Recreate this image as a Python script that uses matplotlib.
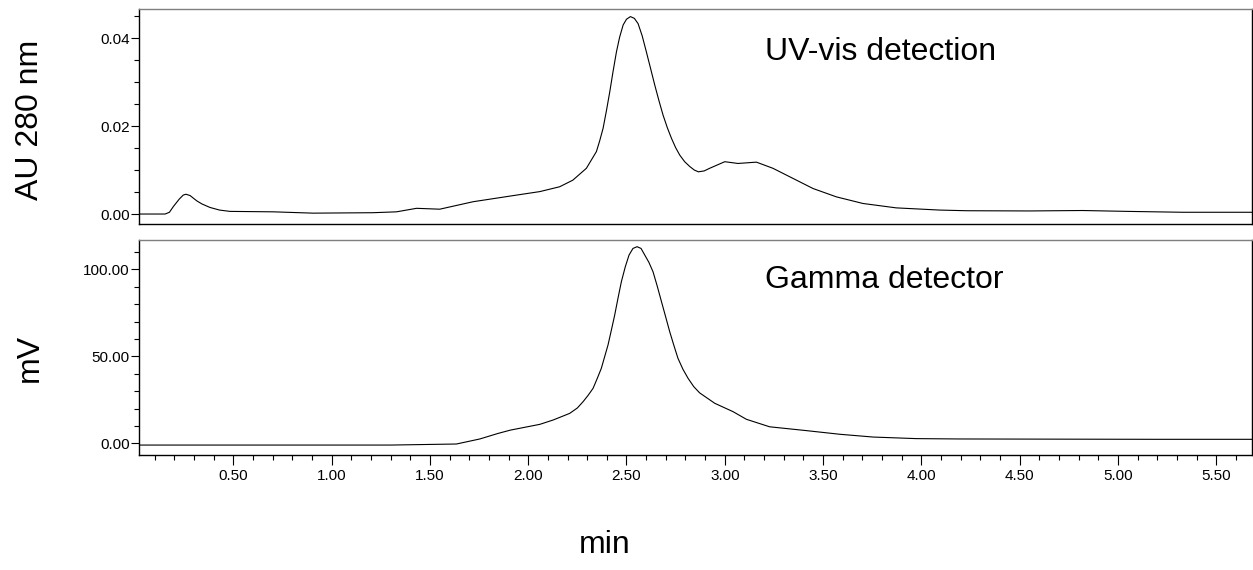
import matplotlib
matplotlib.use('Agg')
import matplotlib.pyplot as plt
from matplotlib.ticker import MultipleLocator, FormatStrFormatter

plt.rcParams['font.family'] = ['Liberation Sans', 'DejaVu Sans']

# UV-vis trace (AU at 280 nm)
uv_t = [0.02, 0.153, 0.175, 0.195, 0.225, 0.245, 0.259, 0.28, 0.314, 0.34,
        0.381, 0.43, 0.483, 0.703, 0.906, 1.21, 1.33, 1.432, 1.55, 1.72,
        1.94, 2.059, 2.16, 2.227, 2.296, 2.347, 2.364, 2.381, 2.398, 2.415,
        2.432, 2.449, 2.465, 2.483, 2.50, 2.520, 2.54, 2.559, 2.58, 2.601,
        2.622, 2.644, 2.665, 2.686, 2.708, 2.729, 2.75, 2.771, 2.796, 2.822,
        2.845, 2.866, 2.895, 2.923, 3.0, 3.067, 3.161, 3.245, 3.347, 3.449,
        3.568, 3.703, 3.872, 4.093, 4.23, 4.55, 4.82, 5.05, 5.33, 5.68]
uv_au = [0.0, 0.0, 0.0004, 0.0017, 0.0034, 0.0043, 0.0045, 0.0042, 0.0030, 0.0023,
         0.0015, 0.0009, 0.0006, 0.0005, 0.0002, 0.0003, 0.0005, 0.0013, 0.0011, 0.0028,
         0.0043, 0.0051, 0.0062, 0.0077, 0.0104, 0.0142, 0.0167, 0.0195, 0.0235, 0.0278,
         0.0325, 0.0369, 0.0402, 0.0430, 0.0443, 0.0449, 0.0445, 0.0433, 0.0405, 0.0369,
         0.0332, 0.0293, 0.0258, 0.0225, 0.0196, 0.0172, 0.0151, 0.0134, 0.0119, 0.0108,
         0.0100, 0.0096, 0.0098, 0.0104, 0.0119, 0.0115, 0.0118, 0.0104, 0.0081, 0.0058,
         0.0039, 0.0024, 0.0014, 0.0009, 0.00075, 0.0007, 0.0008, 0.0006, 0.0004, 0.0004]

# gamma detector trace (mV)
gam_t = [0.02, 0.5, 1.0, 1.3, 1.635, 1.754, 1.847, 1.91, 2.059, 2.127,
         2.211, 2.25, 2.279, 2.305, 2.33, 2.351, 2.372, 2.389, 2.406, 2.423,
         2.44, 2.457, 2.474, 2.494, 2.513, 2.533, 2.554, 2.574, 2.593, 2.614,
         2.635, 2.656, 2.678, 2.699, 2.72, 2.741, 2.762, 2.787, 2.813, 2.842,
         2.872, 2.949, 3.042, 3.11, 3.228, 3.415, 3.585, 3.755, 3.974, 4.194,
         4.65, 5.2, 5.68]
gam_mv = [-1.0, -1.0, -1.0, -1.0, -0.4, 2.5, 5.7, 7.6, 10.9, 13.4,
          17.2, 20.3, 23.9, 27.6, 31.6, 37.2, 43.1, 49.8, 56.5, 65.0,
          73.7, 83.5, 92.9, 101.5, 108.2, 112.0, 113.0, 112.0, 108.2, 104.0,
          98.6, 90.5, 81.4, 72.8, 64.1, 56.3, 48.8, 42.6, 37.4, 32.6,
          29.0, 23.0, 18.2, 13.8, 9.5, 7.3, 5.2, 3.6, 2.7, 2.5,
          2.4, 2.3, 2.3]

fig = plt.figure(figsize=(12.53, 5.70), dpi=100)
ax1 = fig.add_axes([0.1109, 0.607, 0.888, 0.377])
ax2 = fig.add_axes([0.1109, 0.2018, 0.888, 0.377])

ax1.plot(uv_t, uv_au, color='black', lw=0.8)
ax2.plot(gam_t, gam_mv, color='black', lw=0.8)

for ax in (ax1, ax2):
  ax.set_xlim(0.02, 5.68)
  for s in ax.spines.values():
    s.set_linewidth(1.0)
  ax.spines['top'].set_color('#7f7f7f')
  ax.tick_params(axis='y', which='major', direction='out', length=6, width=0.8,
                 labelsize=11, pad=0.5)
  ax.tick_params(axis='y', which='minor', direction='out', length=3.5, width=0.8)

ax1.set_ylim(-0.00227, 0.0466)
ax1.yaxis.set_major_locator(MultipleLocator(0.02))
ax1.yaxis.set_minor_locator(MultipleLocator(0.005))
ax1.yaxis.set_major_formatter(FormatStrFormatter('%.2f'))
ax1.tick_params(axis='x', which='both', bottom=False, labelbottom=False)

ax2.set_ylim(-6.7, 116.8)
ax2.yaxis.set_major_locator(MultipleLocator(50))
ax2.yaxis.set_minor_locator(MultipleLocator(10))
ax2.yaxis.set_major_formatter(FormatStrFormatter('%.2f'))
ax2.xaxis.set_major_locator(MultipleLocator(0.5))
ax2.xaxis.set_minor_locator(MultipleLocator(0.1))
ax2.xaxis.set_major_formatter(FormatStrFormatter('%.2f'))
ax2.tick_params(axis='x', which='major', direction='out', length=7, width=0.8,
                labelsize=11, pad=3)
ax2.tick_params(axis='x', which='minor', direction='out', length=3.5, width=0.8)

ax1.text(0.5625, 0.80, 'UV-vis detection', transform=ax1.transAxes,
         fontsize=23, va='center', ha='left')
ax2.text(0.5625, 0.814, 'Gamma detector', transform=ax2.transAxes,
         fontsize=23, va='center', ha='left')

fig.text(30 / 1253, 1 - 120 / 570, 'AU 280 nm', rotation=90, fontsize=23,
         ha='center', va='center')
fig.text(30 / 1253, 1 - 358 / 570, 'mV', rotation=90, fontsize=23,
         ha='center', va='center')
fig.text(605 / 1253, 1 - 545 / 570, 'min', fontsize=23, ha='center', va='center')

fig.savefig('out.png', dpi=100)
